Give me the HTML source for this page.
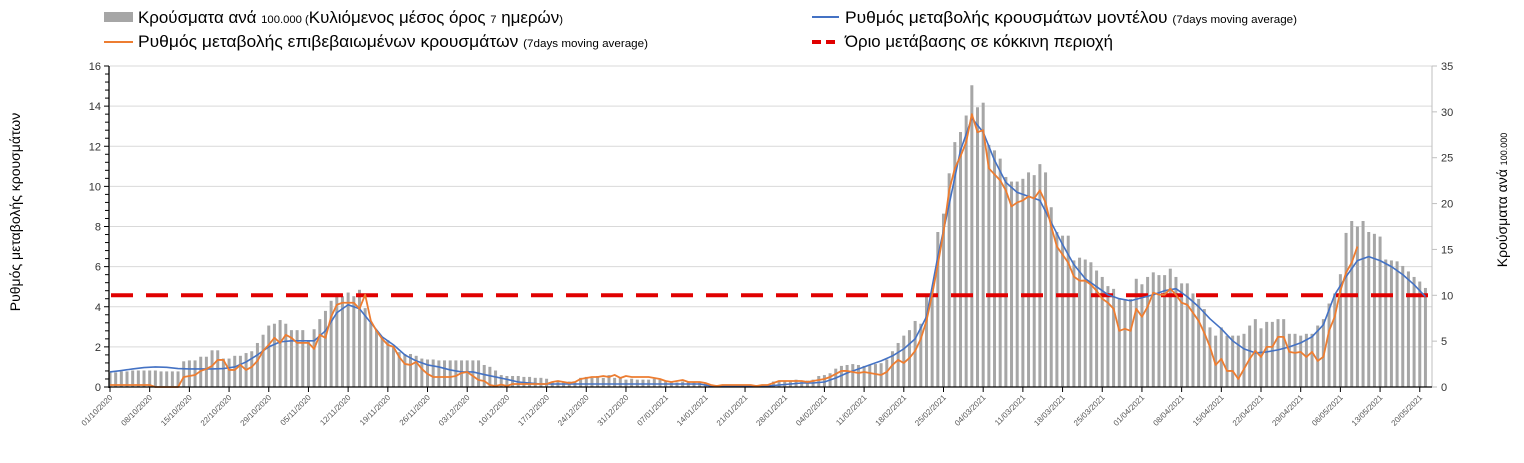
<!DOCTYPE html>
<html><head><meta charset="utf-8"><style>
html,body{margin:0;padding:0;background:#fff;}
svg{display:block;font-family:"Liberation Sans","Noto Sans CJK SC",sans-serif;}
</style></head><body>
<svg id="chart" width="1524" height="463" viewBox="0 0 1524 463" xmlns="http://www.w3.org/2000/svg">
<g id="grid"></g>
<g id="bars"></g>
<g id="lines"></g>
<g id="axes"></g>
<g>
 <rect x="104" y="12" width="29" height="10" fill="#a6a6a6"/>
 <text x="138" y="23" font-size="16.5" fill="#000" textLength="425" lengthAdjust="spacingAndGlyphs">Κρούσματα ανά <tspan font-size="11">100.000 (</tspan>Κυλιόμενος μέσος όρος <tspan font-size="11">7</tspan> ημερών<tspan font-size="11">)</tspan></text>
 <line x1="104" y1="42" x2="133" y2="42" stroke="#ed7d31" stroke-width="2"/>
 <text x="138" y="47" font-size="16.5" fill="#000" textLength="510" lengthAdjust="spacingAndGlyphs">Ρυθμός μεταβολής επιβεβαιωμένων κρουσμάτων <tspan font-size="11">(7days moving average)</tspan></text>
 <line x1="812" y1="17" x2="839" y2="17" stroke="#4472c4" stroke-width="2"/>
 <text x="845" y="23" font-size="16.5" fill="#000" textLength="452" lengthAdjust="spacingAndGlyphs">Ρυθμός μεταβολής κρουσμάτων μοντέλου <tspan font-size="11">(7days moving average)</tspan></text>
 <line x1="812" y1="42" x2="840" y2="42" stroke="#e00000" stroke-width="4" stroke-dasharray="9,5"/>
 <text x="845" y="47" font-size="16.5" fill="#000" textLength="268" lengthAdjust="spacingAndGlyphs">Όριο μετάβασης σε κόκκινη περιοχή</text>
</g>
<text transform="translate(20,212) rotate(-90)" text-anchor="middle" font-size="14" fill="#000">Ρυθμός μεταβολής κρουσμάτων</text>
<text transform="translate(1507,200) rotate(-90)" text-anchor="middle" font-size="14" fill="#000">Κρούσματα ανά <tspan font-size="9">100.000</tspan></text>
</svg>
<script>
const barValues = [1.6,1.6,1.7,1.7,1.8,1.8,1.8,1.8,1.8,1.7,1.7,1.7,1.7,
2.8,2.9,2.9,3.3,3.3,4.0,4.0,3.1,3.1,3.4,3.4,3.7,3.9,4.8,5.7,6.7,6.9,7.3,6.9,6.2,6.2,6.2,5.0,6.3,7.4,8.3,9.4,9.9,9.9,10.3,9.9,10.6,8.6,7.0,6.2,5.4,5.1,4.3,3.8,3.6,3.6,3.4,3.1,
3.0,3.0,2.9,2.9,2.9,2.9,2.9,2.9,2.9,2.9,2.4,2.2,1.8,1.3,1.2,1.2,1.2,1.1,1.1,1.0,1.0,0.9,
0.6,0.6,0.6,0.6,0.6,1.0,1.1,1.0,1.2,1.0,1.3,1.0,1.1,0.8,0.9,0.8,0.8,0.8,0.9,0.8,
0.6,0.6,0.5,0.6,0.6,0.5,0.5,0.4,0.2,0.2,0.2,0.2,0.2,0.2,0.2,0.2,0.2,0.2,0.2,
0.6,0.7,0.7,0.7,0.8,0.7,0.7,0.8,1.2,1.3,1.5,2.0,2.3,2.4,2.5,2.4,2.3,2.4,2.5,2.6,3.0,
3.9,4.8,5.6,6.2,7.2,6.9,10.0,10.5,16.9,18.9,23.3,26.7,27.8,29.6,32.9,30.5,31.0,26.4,25.8,24.9,22.9,22.4,22.4,22.7,23.4,23.1,24.3,23.4,19.6,16.9,16.5,16.5,13.8,14.1,13.9,13.6,12.7,12.0,11.0,10.7,9.6,9.6,9.6,11.8,11.2,12.0,
12.5,12.2,12.2,12.9,12.0,11.3,11.3,10.2,9.6,8.5,6.5,5.6,6.5,5.6,5.6,5.6,5.8,6.7,7.4,6.4,7.1,7.1,7.4,7.4,5.8,5.8,5.6,5.8,5.8,6.7,7.4,9.1,10.2,12.3,16.8,18.1,17.5,18.1,16.9,16.7,16.4,13.9,13.8,13.7,13.2,12.6,12.0,11.5,10.8];
const orangeValues = [0.1,0.1,0.1,0.1,0.1,0.1,0.1,0.1,0,0,0,0,0,
0.5,0.55,0.6,0.8,0.9,1.05,1.35,1.35,0.85,0.85,1.1,0.85,1.0,1.3,1.8,2.1,2.45,2.2,2.6,2.45,2.2,2.2,2.2,1.9,2.6,2.45,3.5,4.1,4.2,4.2,4.2,3.9,4.6,3.3,2.8,2.4,2.1,2.0,1.5,1.15,1.1,1.25,0.9,0.65,0.5,0.5,0.5,0.5,0.55,0.7,0.75,0.55,0.35,0.3,0.1,0.05,0.12,0.05,
0.15,0.15,0.15,0.15,0.15,0.15,0.15,0.25,0.3,0.25,0.2,0.25,
0.4,0.45,0.5,0.5,0.55,0.5,0.6,0.45,0.55,0.5,0.5,0.5,0.5,0.45,0.4,
0.3,0.25,0.3,0.35,0.25,0.25,0.25,0.2,
0.1,0.05,0.1,0.1,0.1,0.1,0.1,0.1,0.05,0.1,0.1,
0.2,0.3,0.3,0.3,0.3,0.3,0.25,0.3,0.35,0.4,0.5,0.65,0.8,
0.8,0.75,0.7,0.75,0.7,0.65,0.6,0.75,
1.1,1.35,1.2,1.45,1.8,2.4,3.3,4.6,6.1,7.7,9.8,10.9,11.5,12.2,13.6,12.7,12.8,10.9,10.6,10.3,9.8,9.0,9.2,9.3,9.5,9.4,9.8,9.2,8.0,7.0,6.6,6.2,5.5,5.3,5.3,5.1,4.8,4.4,4.2,3.9,2.8,2.9,2.8,3.9,3.5,4.0,4.7,4.6,4.6,4.9,4.6,4.2,4.1,3.7,3.3,2.7,2.0,1.1,1.4,0.8,0.8,0.4,0.9,1.4,1.8,1.5,2.0,2.0,2.5,2.5,1.75,1.7,1.75,1.5,1.75,1.3,1.5,2.8,3.5,4.8,5.7,6.2,7.0];
// model line, one value every 2 days
const blueValues = [0.75,0.82,0.9,0.97,1.0,0.98,0.92,0.9,0.9,0.9,0.92,1.0,1.25,1.6,2.0,2.25,2.3,2.3,2.3,2.8,3.7,4.1,3.9,3.2,2.5,2.1,1.6,1.3,1.1,1.0,0.85,0.75,0.75,0.62,0.5,0.38,0.25,0.2,0.15,
0.15,0.15,0.15,0.15,0.15,0.15,0.15,0.15,0.15,0.15,0.15,0.15,0.15,0.15,
0.05,0.05,0.05,0.05,0.05,0.05,0.1,0.15,0.2,0.2,0.25,0.45,0.7,0.9,1.1,1.3,1.55,1.9,2.4,3.5,6.5,9.1,11.8,13.4,12.7,11.3,10.2,9.7,9.5,9.3,8.2,7.1,6.1,5.4,5.0,4.6,4.4,4.3,4.45,4.6,4.8,4.9,4.5,4.0,3.4,2.9,2.3,1.9,1.7,1.75,1.85,2.0,2.2,2.5,3.1,4.6,5.5,6.3,6.5,6.3,6.0,5.6,5.1,4.5];
const leftTicks = [0,2,4,6,8,10,12,14,16];
const rightTicks = [0,5,10,15,20,25,30,35];
const thresholdValue = 10; // right-axis units
const startDate = [2020,10,1];

const NS="http://www.w3.org/2000/svg";
const X0=110, DAY=5.67, Y0=387, YTOP=66;
const xDay = d => X0 + d*DAY;
const yL = v => Y0 - v*(Y0-YTOP)/16;
const yR = v => Y0 - v*(Y0-YTOP)/35;
function mk(tag, parent, attrs){const e=document.createElementNS(NS,tag);for(const k in attrs)e.setAttribute(k,attrs[k]);parent.appendChild(e);return e;}
const grid=document.getElementById('grid'), barsG=document.getElementById('bars'), linesG=document.getElementById('lines'), axes=document.getElementById('axes');
const XEND=1432;
leftTicks.forEach(t=>{
  const g=mk('line',grid,{x1:X0,x2:XEND,y1:yL(t),y2:yL(t),stroke:'#d9d9d9','stroke-width':1});
  
  
  const lb=mk('text',axes,{x:101,y:yL(t)+4,'text-anchor':'end','font-size':11,fill:'#333'});
  lb.textContent=t;
  
  
});
for(let v=0;v<=16.001;v+=0.4){
  const major=Math.abs(v/2-Math.round(v/2))<1e-6;
  mk('line',axes,{x1:major?104:105,x2:109,y1:yL(v),y2:yL(v),stroke:'#000','stroke-width':1});
}
const la=mk('line',axes,{x1:109,x2:109,y1:YTOP,y2:Y0+1,stroke:'#000','stroke-width':1.3});


const ra=mk('line',axes,{x1:XEND,x2:XEND,y1:YTOP,y2:Y0,stroke:'#bfbfbf','stroke-width':1});


rightTicks.forEach(t=>{
  mk('line',axes,{x1:XEND,x2:XEND+5,y1:yR(t),y2:yR(t),stroke:'#bfbfbf'});
  const lb=mk('text',axes,{x:XEND+9,y:yR(t)+4,'font-size':11,fill:'#333'});
  lb.textContent=t;
  
  
});
const xa=mk('line',axes,{x1:109,x2:XEND,y1:Y0,y2:Y0,stroke:'#000','stroke-width':1.3});


barValues.forEach((v,i)=>{
  const r=mk('rect',barsG,{x:xDay(i)-1.5,y:yR(v),width:3,height:Y0-yR(v),fill:'#a6a6a6'});
  
  
});
const th=mk('line',linesG,{x1:X0+1,x2:XEND,y1:yR(thresholdValue),y2:yR(thresholdValue),stroke:'#e00000','stroke-width':4,'stroke-dasharray':'22,13'});


const bp=mk('polyline',linesG,{points:blueValues.map((v,i)=>xDay(i*2)+','+yL(v)).join(' '),fill:'none',stroke:'#4472c4','stroke-width':1.6,'stroke-linejoin':'round'});


const op=mk('polyline',linesG,{points:orangeValues.map((v,i)=>xDay(i)+','+yL(v)).join(' '),fill:'none',stroke:'#ed7d31','stroke-width':1.8,'stroke-linejoin':'round'});


const nDays=barValues.length;
const pad=n=>String(n).padStart(2,'0');
for(let d=0;d<nDays;d+=7){
  const x=xDay(d);
  mk('line',axes,{x1:x,x2:x,y1:Y0,y2:Y0+5,stroke:'#000'});
  const dt=new Date(startDate[0],startDate[1]-1,startDate[2]+d);
  const s=pad(dt.getDate())+'/'+pad(dt.getMonth()+1)+'/'+dt.getFullYear();
  const lb=mk('text',axes,{transform:`translate(${x+3},${Y0+11}) rotate(-45)`,'text-anchor':'end','font-size':8,fill:'#555'});
  lb.textContent=s;
  
  
}
</script>
</body></html>
